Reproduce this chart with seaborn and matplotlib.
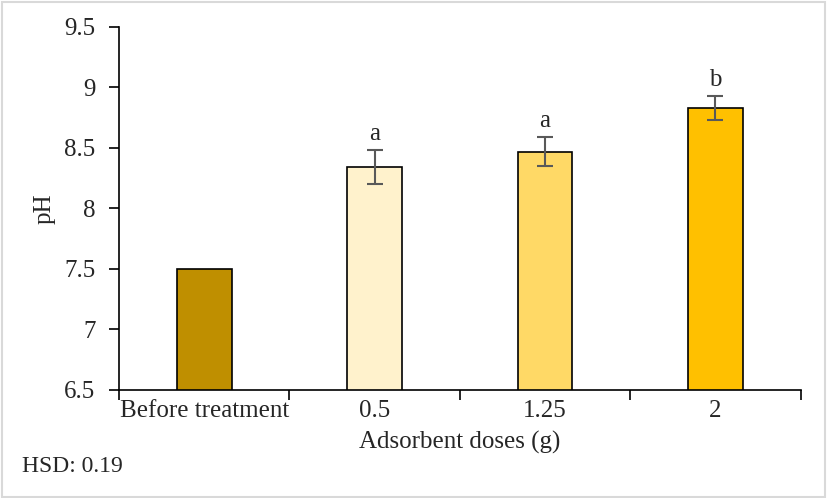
import numpy as np
import pandas as pd
import seaborn as sns
import matplotlib.pyplot as plt
from matplotlib.patches import Rectangle

# data #
doses = ["Before treatment", "0.5", "1.25", "2"]
ph_mean = [7.50, 8.34, 8.47, 8.83]
ph_err = [0.0, 0.14, 0.12, 0.10]
letters = ["", "a", "a", "b"]
bar_colors = ["#BF8F00", "#FFF2CC", "#FFD966", "#FFC000"]

sns.set_style("white")
plt.rcParams['font.family'] = ['Liberation Serif', 'DejaVu Serif']

df = pd.DataFrame({"dose": doses, "ph": ph_mean})

fig = plt.figure(figsize=(8.27, 4.98), dpi=100)
ax = fig.add_axes([0.144, 0.217, 0.824, 0.729])

sns.barplot(data=df, x="dose", y="ph", hue="dose", palette=bar_colors, saturation=1,
            width=0.32, edgecolor="black", linewidth=1.2, legend=False, ax=ax)

xpos = np.arange(len(doses))
for i in range(1, len(doses)):
    ax.errorbar(xpos[i], ph_mean[i], yerr=ph_err[i], color="#595959",
                capsize=6, elinewidth=1.5, capthick=1.5)
    ax.text(xpos[i], ph_mean[i] + ph_err[i] + 0.04, letters[i],
            ha="center", va="bottom", fontsize=18)

ax.set_ylim(6.5, 9.5)
ax.set_xlim(-0.5, len(doses) - 0.5)
ax.set_yticks([6.5, 7, 7.5, 8, 8.5, 9, 9.5])
ax.set_yticklabels(["6.5", "7", "7.5", "8", "8.5", "9", "9.5"])
ax.set_xticks(xpos)
ax.set_xticks(np.arange(-0.5, len(doses)), minor=True)
ax.tick_params(axis="x", which="major", length=0, labelsize=18, pad=7)
ax.tick_params(axis="x", which="minor", length=7, width=1.2, direction="out",
               color="black", bottom=True)
ax.tick_params(axis="y", length=7, width=1.2, direction="out", color="black",
               labelsize=18, left=True, pad=10)

for s in ["top", "right"]:
    ax.spines[s].set_visible(False)
for s in ["left", "bottom"]:
    ax.spines[s].set_color("black")
    ax.spines[s].set_linewidth(1.2)

ax.set_xlabel("Adsorbent doses (g)", fontsize=18, labelpad=7)
ax.set_ylabel("pH", fontsize=18, labelpad=6)

fig.text(22 / 827, 1 - 466 / 498, "HSD: 0.19", fontsize=17, va="center")
fig.patches.append(Rectangle((0.002, 0.003), 0.995, 0.993, transform=fig.transFigure,
                             fill=False, edgecolor="#D9D9D9", linewidth=1.5))

fig.savefig("out.png", dpi=100)
